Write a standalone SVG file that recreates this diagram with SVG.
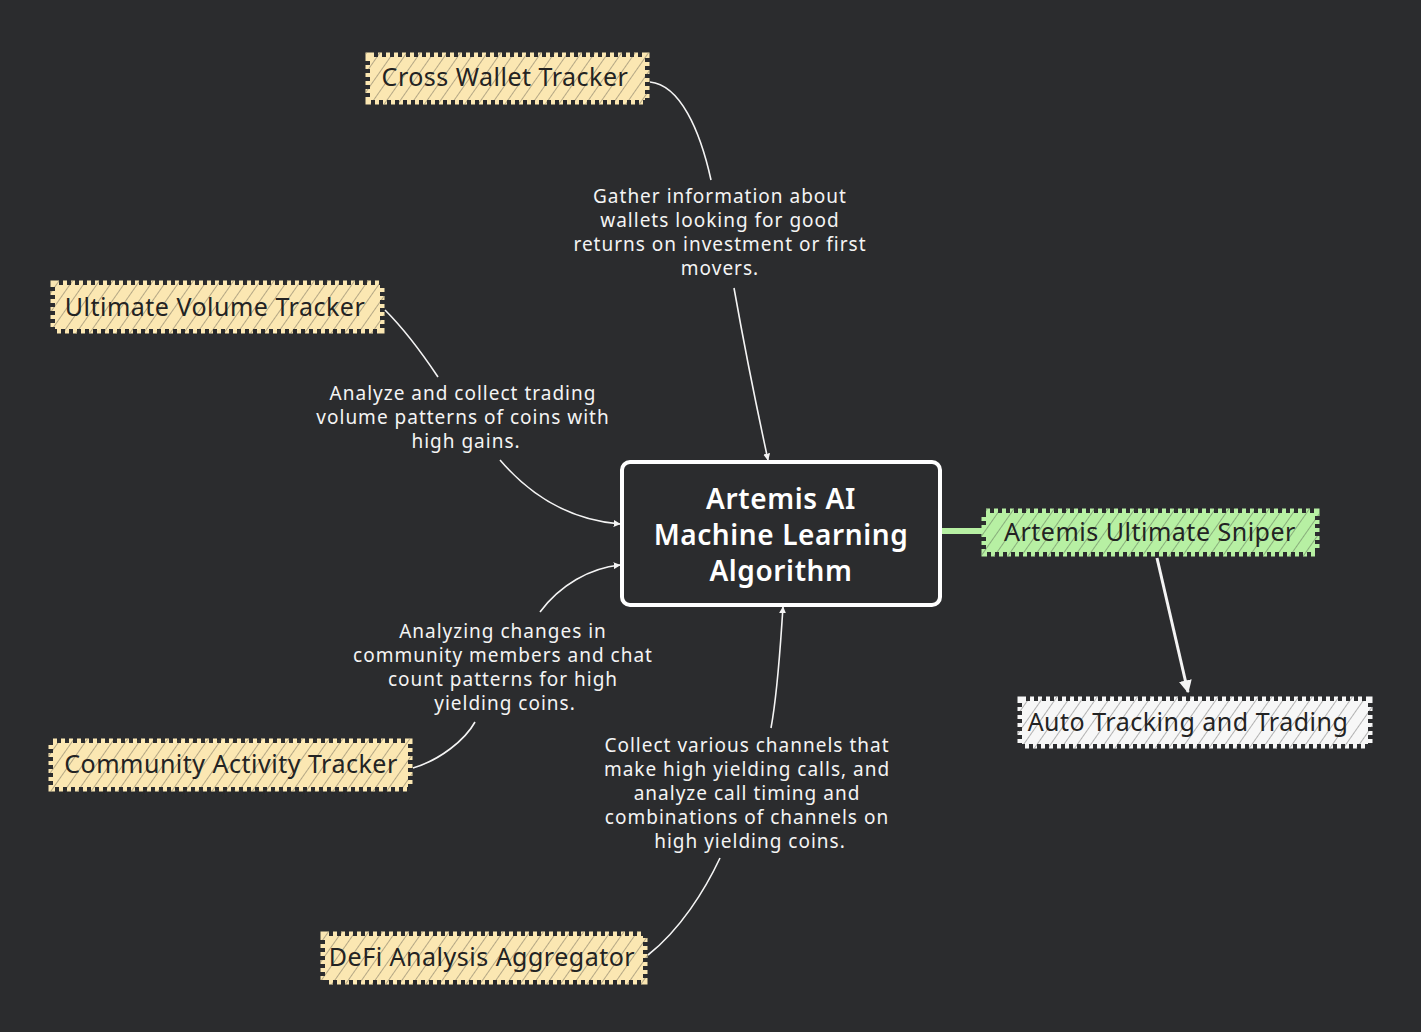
<svg xmlns="http://www.w3.org/2000/svg" width="1421" height="1032" viewBox="0 0 1421 1032">
<style>
.bg{fill:#2b2c2e}
.lbl{font-family:"Noto Sans","DejaVu Sans",sans-serif;font-size:19px;fill:#f4f4f4;text-anchor:middle;letter-spacing:1px}
.ntxt{font-family:"Noto Sans","DejaVu Sans",sans-serif;font-size:25px;fill:#232323;text-anchor:middle;dominant-baseline:central;letter-spacing:0.5px}
.ctxt{font-family:"Noto Sans","DejaVu Sans",sans-serif;font-size:28px;font-weight:600;fill:#ffffff;text-anchor:middle;dominant-baseline:central;letter-spacing:0.6px}
.edge{fill:none;stroke:#f4f4f4;stroke-width:1.6}
.y{fill:#fbe7b2;stroke:#fbe7b2}
.g{fill:#b7f0a3;stroke:#b7f0a3}
.w{fill:#f7f7f7;stroke:#f7f7f7}
.saw{stroke-width:9;stroke-dasharray:4 4;stroke-linejoin:miter}
.hatch{fill:url(#hp)}
</style>
<defs>
<pattern id="hp" width="11" height="11" patternUnits="userSpaceOnUse" patternTransform="rotate(35)">
<line x1="0" y1="0" x2="0" y2="11" stroke="#333333" stroke-width="1" stroke-opacity="0.7"/>
</pattern>
<marker id="ah" viewBox="0 0 10 10" refX="9" refY="5" markerWidth="7" markerHeight="7" orient="auto" markerUnits="userSpaceOnUse">
<path d="M0,0 L10,5 L0,10 z" fill="#f4f4f4"/>
</marker>
<marker id="ahb" viewBox="0 0 10 10" refX="9" refY="5" markerWidth="13" markerHeight="13" orient="auto" markerUnits="userSpaceOnUse">
<path d="M0,0 L10,5 L0,10 z" fill="#f4f4f4"/>
</marker>
</defs>
<rect class="bg" x="0" y="0" width="1421" height="1032"/>

<g id="connectors">
<path class="edge" d="M650,82 C680,85 700,130 711,180"/>
<path class="edge" d="M734,288 C745,350 755,400 768,460" marker-end="url(#ah)"/>
<path class="edge" d="M385,310 C400,325 420,350 438,377"/>
<path class="edge" d="M500,460 C530,495 570,520 620,524" marker-end="url(#ah)"/>
<path class="edge" d="M413,768 C440,760 465,740 475,722"/>
<path class="edge" d="M540,612 C560,585 590,568 620,565" marker-end="url(#ah)"/>
<path class="edge" d="M648,955 C680,930 705,890 720,858"/>
<path class="edge" d="M771,728 C778,690 780,650 783,607" marker-end="url(#ah)"/>
<path d="M942,531 L988,531" stroke="#b7f0a3" stroke-width="6" fill="none"/>
<path d="M1157,558 L1188,692" stroke="#f4f4f4" stroke-width="3" fill="none" marker-end="url(#ahb)"/>
</g>

<g id="edge-labels">
<text class="lbl" x="720" y="203">Gather information about</text>
<text class="lbl" x="720" y="227">wallets looking for good</text>
<text class="lbl" x="720" y="251">returns on investment or first</text>
<text class="lbl" x="720" y="275">movers.</text>
<text class="lbl" x="463" y="400">Analyze and collect trading</text>
<text class="lbl" x="463" y="424">volume patterns of coins with</text>
<text class="lbl" x="466" y="448">high gains.</text>
<text class="lbl" x="503" y="638">Analyzing changes in</text>
<text class="lbl" x="503" y="662">community members and chat</text>
<text class="lbl" x="503" y="686">count patterns for high</text>
<text class="lbl" x="505" y="710">yielding coins.</text>
<text class="lbl" x="747" y="752">Collect various channels that</text>
<text class="lbl" x="747" y="776">make high yielding calls, and</text>
<text class="lbl" x="747" y="800">analyze call timing and</text>
<text class="lbl" x="747" y="824">combinations of channels on</text>
<text class="lbl" x="750" y="848">high yielding coins.</text>
</g>

<g id="node-center">
<rect x="622" y="462" width="318" height="143" rx="8" fill="#2b2c2e" stroke="#ffffff" stroke-width="4"/>
<text class="ctxt" x="781" y="498">Artemis AI</text>
<text class="ctxt" x="781" y="534">Machine Learning</text>
<text class="ctxt" x="781" y="570">Algorithm</text>
</g>

<g id="node-cross-wallet">
<rect class="y saw" x="370" y="57" width="275" height="43"/>
<rect class="hatch" x="366" y="53" width="283" height="51"/>
<text class="ntxt" x="505" y="76">Cross Wallet Tracker</text>
</g>

<g id="node-volume">
<rect class="y saw" x="55" y="285" width="325" height="44"/>
<rect class="hatch" x="51" y="281" width="333" height="52"/>
<text class="ntxt" x="215" y="306">Ultimate Volume Tracker</text>
</g>

<g id="node-community">
<rect class="y saw" x="53" y="743" width="355" height="44"/>
<rect class="hatch" x="49" y="739" width="363" height="52"/>
<text class="ntxt" x="231" y="763">Community Activity Tracker</text>
</g>

<g id="node-defi">
<rect class="y saw" x="325" y="936" width="318" height="44"/>
<rect class="hatch" x="321" y="932" width="326" height="52"/>
<text class="ntxt" x="482" y="956">DeFi Analysis Aggregator</text>
</g>

<g id="node-sniper">
<rect class="g saw" x="986" y="513" width="329" height="39"/>
<rect class="hatch" x="982" y="509" width="337" height="47"/>
<text class="ntxt" x="1150" y="531">Artemis Ultimate Sniper</text>
</g>

<g id="node-auto">
<rect class="w saw" x="1022" y="701" width="346" height="43"/>
<rect class="hatch" x="1018" y="697" width="354" height="51"/>
<text class="ntxt" x="1188" y="721">Auto Tracking and Trading</text>
</g>
</svg>
